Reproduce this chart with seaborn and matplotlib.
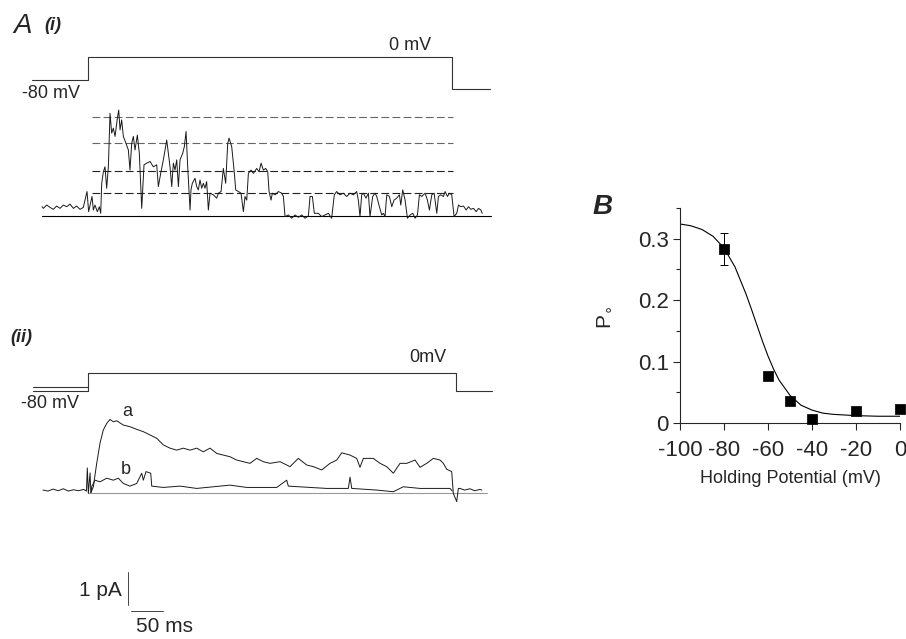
import numpy as np
import matplotlib
matplotlib.use("Agg")
import matplotlib.pyplot as plt
import seaborn as sns

# ---- panel A(i): single channel sweep, time (ms from step onset) and current (pA)
trace_i_t = [-72.5, -70.4, -65.2, -59.9, -54.7, -49.4, -44.2, -38.9, -33.6, -28.4, -23.1, -17.9, -12.6,
             -7.4, -1.6, 1.0, 6.3, 8.4, 11.0, 14.7, 17.9, 20.0, 21.6, 24.2, 26.8, 29.4, 32.1, 34.7,
             37.3, 39.9, 42.6, 46.3, 48.4, 50.5, 53.1, 55.7, 59.9, 63.6, 66.2, 68.9, 71.5, 74.1,
             77.8, 80.9, 84.7, 88.3, 92.5, 97.8, 103.0, 108.3, 110.9, 114.6, 118.8, 124.1, 129.3,
             132.0, 134.6, 137.2, 139.9, 142.5, 145.1, 149.3, 151.9, 154.6, 157.2, 160.9, 162.4,
             164.5, 168.7, 171.4, 174.0, 176.6, 179.3, 181.9, 184.5, 187.1, 189.8, 192.4, 197.7,
             202.9, 205.6, 209.8, 213.4, 217.1, 220.3, 222.4, 226.6, 230.8, 232.9, 237.1, 241.3,
             245.0, 247.6, 250.3, 252.9, 257.1, 260.8, 266.0, 269.7, 272.9, 276.5, 280.2, 283.4,
             285.5, 288.6, 290.7, 294.9, 300.2, 305.4, 308.1, 310.7, 316.0, 321.2, 326.5, 331.7,
             337.0, 342.2, 347.5, 350.1, 353.8, 356.9, 363.2, 368.5, 373.7, 379.0, 384.2, 388.4,
             392.1, 397.4, 402.6, 407.9, 413.2, 418.4, 423.7, 426.3, 428.9, 431.6, 434.2, 438.4,
             442.1, 444.7, 448.9, 452.6, 455.3, 459.5, 463.2, 465.8, 468.4, 471.1, 475.3, 479.0,
             482.6, 486.8, 491.1, 493.2, 496.3, 500.0, 503.7, 507.9, 512.1, 515.8, 519.5, 522.6,
             526.3, 531.6, 535.2, 538.4, 542.1, 545.8, 550.0, 552.6, 556.3, 560.5, 563.1, 566.8,
             570.0, 573.6, 577.3, 581.5, 584.2, 587.9, 592.1, 596.3, 600.0, 603.7, 607.9, 612.1,
             615.8, 619.5, 621.6]
trace_i_pA = [0.28, 0.23, 0.33, 0.26, 0.20, 0.30, 0.23, 0.33, 0.28, 0.36, 0.23, 0.30, 0.20,
              0.26, 0.74, 0.13, 0.59, 0.18, 0.33, 0.13, 0.28, 0.08, 0.99, 1.34, 1.49, 0.84, 1.49, 3.11,
              2.51, 2.66, 2.41, 2.96, 3.21, 2.61, 2.91, 2.41, 2.20, 2.00, 1.39, 2.20, 2.41, 2.00,
              2.45, 1.90, 0.23, 1.55, 1.60, 1.65, 1.49, 1.55, 0.89, 1.29, 1.70, 2.30, 1.49,
              0.89, 1.60, 1.39, 1.70, 0.89, 1.70, 1.90, 2.10, 2.56, 1.49, 0.18, 0.79,
              0.99, 1.14, 0.89, 0.79, 1.09, 0.84, 0.99, 0.84, 1.04, 0.18, 0.69, 0.64,
              0.54, 0.69, 0.74, 1.44, 0.99, 2.20, 2.36, 2.10, 1.29, 0.79, 0.74, 0.69,
              0.13, 0.59, 0.48, 1.29, 1.39, 1.29, 1.44, 1.34, 1.60, 1.39, 1.44, 1.34,
              0.74, 0.48, 0.69, 0.64, 0.74, 0.69, 0.59, -0.02, 0.03, -0.07, 0.03, -0.04,
              0.03, -0.07, 0.00, 0.59, 0.59, 0.08, 0.08, -0.02, 0.03, 0.08, -0.07, 0.64,
              0.74, 0.64, 0.69, 0.59, 0.69, 0.64, 0.74, 0.48, -0.02, 0.64, 0.69, 0.54,
              0.69, -0.02, 0.59, 0.69, 0.59, 0.28, 0.03, 0.08, -0.02, 0.64, 0.59, 0.28,
              0.48, 0.54, 0.64, 0.33, 0.79, 0.48, -0.07, 0.03, 0.08, -0.07, 0.03, 0.64,
              0.59, 0.69, 0.48, 0.18, 0.64, 0.69, 0.08, 0.59, 0.64, 0.59, 0.74, 0.59,
              0.69, 0.64, -0.02, 0.08, 0.33, 0.28, 0.30, 0.18, 0.28, 0.20, 0.23, 0.13,
              0.23, 0.18, 0.08]
levels_i_pA = [0.69, 1.36, 2.20, 2.99]

# ---- panel A(ii): ensemble averages a and b
trace_a_t = [-71, -63, -55, -47, -39, -31, -23, -15, -7, -2.5, -1.1, 0.5, 3.2, 4.5, 8.4, 13.7, 18.9,
             24.1, 29.5, 34.7, 39.9, 45.3, 55.7, 66.2, 76.8, 87.2, 97.8, 108.3, 118.7, 129.3, 139.9,
             150.3, 160.9, 171.4, 181.8, 192.4, 203.0, 213.4, 223.9, 234.5, 244.9, 255.5, 266.0,
             276.5, 287.0, 302.8, 318.6, 331.6, 344.9, 355.3, 368.5, 381.6, 392.2, 400.1, 413.2,
             423.7, 428.9, 434.2, 449.9, 460.5, 471.0, 481.5, 492.0, 502.6, 515.7, 523.6, 534.1,
             544.5, 555.1, 560.3, 565.7, 573.5, 576.1, 581.4, 584.0, 586.6, 594, 602, 610, 618, 621]
trace_a_pA = [0.08, 0.05, 0.11, 0.06, 0.12, 0.05, 0.09, 0.06, 0.10, 0.05, 0.75, -0.02, 0.60, 0.00,
              0.18, 0.89, 1.50, 1.90, 2.10, 2.22, 2.15, 2.18, 2.05, 2.00, 1.92, 1.85, 1.75, 1.65,
              1.45, 1.35, 1.29, 1.35, 1.29, 1.35, 1.24, 1.35, 1.19, 1.14, 1.09, 0.99, 0.94, 0.89,
              1.04, 0.94, 0.89, 0.94, 0.79, 1.04, 0.84, 0.79, 0.69, 0.89, 0.99, 1.21, 1.14, 1.04,
              0.77, 1.04, 1.04, 0.89, 0.79, 0.59, 0.89, 0.89, 0.99, 0.77, 0.89, 1.04, 0.99, 0.89,
              0.71, 0.64, -0.02, -0.27, 0.13, 0.13, 0.08, 0.12, 0.06, 0.10, 0.08]
trace_b_t = [4.5, 5.8, 11.0, 18.9, 29.5, 39.9, 47.8, 55.7, 66.2, 76.8, 84.7, 87.2, 91.5, 98.9, 100.5,
             118.7, 145.1, 171.4, 197.6, 223.9, 250.3, 276.5, 297.6, 313.3, 315.9, 350.1, 376.4,
             410.5, 413.2, 415.9, 455.3, 481.5, 497.2, 523.6, 555.1, 570.9, 574.5]
trace_b_pA = [0.00, 0.18, 0.38, 0.33, 0.44, 0.38, 0.44, 0.28, 0.20, 0.28, 0.59, 0.38, 0.64, 0.59, 0.20,
              0.16, 0.20, 0.13, 0.18, 0.23, 0.16, 0.16, 0.16, 0.38, 0.20, 0.16, 0.13,
              0.13, 0.47, 0.13, 0.08, 0.03, 0.18, 0.13, 0.13, 0.13, 0.05]

# voltage protocols (ms, mV)
step_i_t = [-89, 0, 574, 634]
step_i_mV = [-80, 0, -113, -113]
step_ii_t = [-87, 0, 580, 637]
step_ii_mV = [-80, 0, -81, -81]
step_ii_extra_mV = -65

# ---- panel B: open probability vs holding potential
hp_mV = [-80, -60, -50, -40, -20, 0]
po = [0.284, 0.077, 0.036, 0.006, 0.019, 0.023]
po_err = [0.026, 0, 0, 0, 0, 0]
fit_mV = [-100, -95, -90, -85, -80, -75, -70, -67.5, -65, -62.5, -60, -57.5, -55, -50, -45, -40,
          -35, -30, -20, -10, 0]
fit_po = [0.324, 0.321, 0.315, 0.304, 0.285, 0.254, 0.210, 0.185, 0.159, 0.133, 0.109, 0.088,
          0.070, 0.045, 0.029, 0.021, 0.016, 0.014, 0.012, 0.011, 0.011]

sns.set_style("ticks")
plt.rcParams['font.family'] = ['Liberation Sans', 'DejaVu Sans']
plt.rcParams['axes.unicode_minus'] = False

W, H = 906, 639
fig = plt.figure(figsize=(W / 100, H / 100), dpi=100)


def ftext(x, y, s, **kw):
    fig.text(x / W, 1 - y / H, s, ha='center', va='center', **kw)


# panel A drawn in one frameless axes, x in ms, y in pA
axA = fig.add_axes([0, 0, 0.55, 1])
axA.set_xlim(-138.8, 647.0)
axA.set_ylim(0, 19.364)
axA.axis('off')

Y0_I, Y0_II = 12.82, 4.433
V0_I, VS_I = 17.63, 0.0086
V0_II, VS_II = 8.07, 0.00682
tc = '#1a1a1a'

# A(i)
axA.plot(step_i_t, V0_I + VS_I * np.array(step_i_mV), drawstyle='steps-post', color='#333', lw=0.8)
axA.plot([-72.5, 636], [Y0_I, Y0_I], color='k', lw=0.8)
for k, lv in enumerate(levels_i_pA):
    axA.plot([6.3, 575.6], [Y0_I + lv] * 2, color='#666' if k >= 2 else '#222', lw=0.8,
             dashes=(7, 3))
sns.lineplot(x=trace_i_t, y=np.array(trace_i_pA) + Y0_I, ax=axA, color=tc, lw=0.7,
             estimator=None, sort=False)

# A(ii)
axA.plot(step_ii_t, V0_II + VS_II * np.array(step_ii_mV), drawstyle='steps-post', color='#333', lw=0.8)
axA.plot([-87, 0], [V0_II + VS_II * step_ii_extra_mV] * 2, color='#333', lw=0.8)
axA.plot([0, 629], [Y0_II, Y0_II], color='#999', lw=0.8)
sns.lineplot(x=trace_a_t, y=np.array(trace_a_pA) + Y0_II, ax=axA, color=tc, lw=0.7,
             estimator=None, sort=False)
sns.lineplot(x=trace_b_t, y=np.array(trace_b_pA) + Y0_II, ax=axA, color=tc, lw=0.7,
             estimator=None, sort=False)

# scale bars: 1 pA, 50 ms
axA.plot([63.1, 63.1], [1.03, 2.03], color='#444', lw=0.7)
axA.plot([67.8, 117.8], [0.85, 0.85], color='#444', lw=0.7)

ftext(23, 26, 'A', fontsize=20, style='italic')
ftext(53, 26, '(i)', fontsize=13, style='italic', weight='bold')
ftext(410, 46, '0 mV', fontsize=13)
ftext(51, 93, '-80 mV', fontsize=13)
ftext(21, 338, '(ii)', fontsize=13, style='italic', weight='bold')
ftext(428, 357, '0mV', fontsize=13)
ftext(50, 403, '-80 mV', fontsize=13)
ftext(127, 412, 'a', fontsize=13)
ftext(126, 470, 'b', fontsize=13)
ftext(100, 590, '1 pA', fontsize=15)
ftext(164, 627, '50 ms', fontsize=15)

# panel B
axB = fig.add_axes([680 / W, 216 / H, 220 / W, 215 / H])
sns.lineplot(x=fit_mV, y=fit_po, ax=axB, color='k', lw=0.8, estimator=None, sort=False)
axB.errorbar(hp_mV, po, yerr=po_err, fmt='none', ecolor='k', elinewidth=0.7, capsize=3,
             capthick=0.7)
sns.scatterplot(x=hp_mV, y=po, ax=axB, marker='s', s=42, color='k', edgecolor='k', zorder=5,
                clip_on=False)
axB.set_xlim(-100, 0)
axB.set_ylim(0, 0.35)
axB.set_xticks([-100, -80, -60, -40, -20, 0])
axB.set_yticks([0, 0.1, 0.2, 0.3])
axB.set_yticklabels(['0', '0.1', '0.2', '0.3'])
axB.set_yticks([0.05, 0.15, 0.25, 0.35], minor=True)
axB.tick_params(axis='both', which='major', length=5, width=0.8, labelsize=16, direction='out')
axB.tick_params(axis='x', which='major', pad=7)
axB.tick_params(axis='y', which='major', pad=3)
axB.tick_params(axis='y', which='minor', length=3, width=0.8)
for s in ['left', 'bottom']:
    axB.spines[s].set_linewidth(0.8)
sns.despine(ax=axB)
axB.set_xlabel('Holding Potential (mV)', fontsize=13, labelpad=7)
axB.set_ylabel('')
ftext(604, 317, r'P$_{\circ}$', fontsize=15, rotation=90)
ftext(603, 207, 'B', fontsize=20, style='italic', weight='bold')

fig.savefig('out.png', dpi=100)
